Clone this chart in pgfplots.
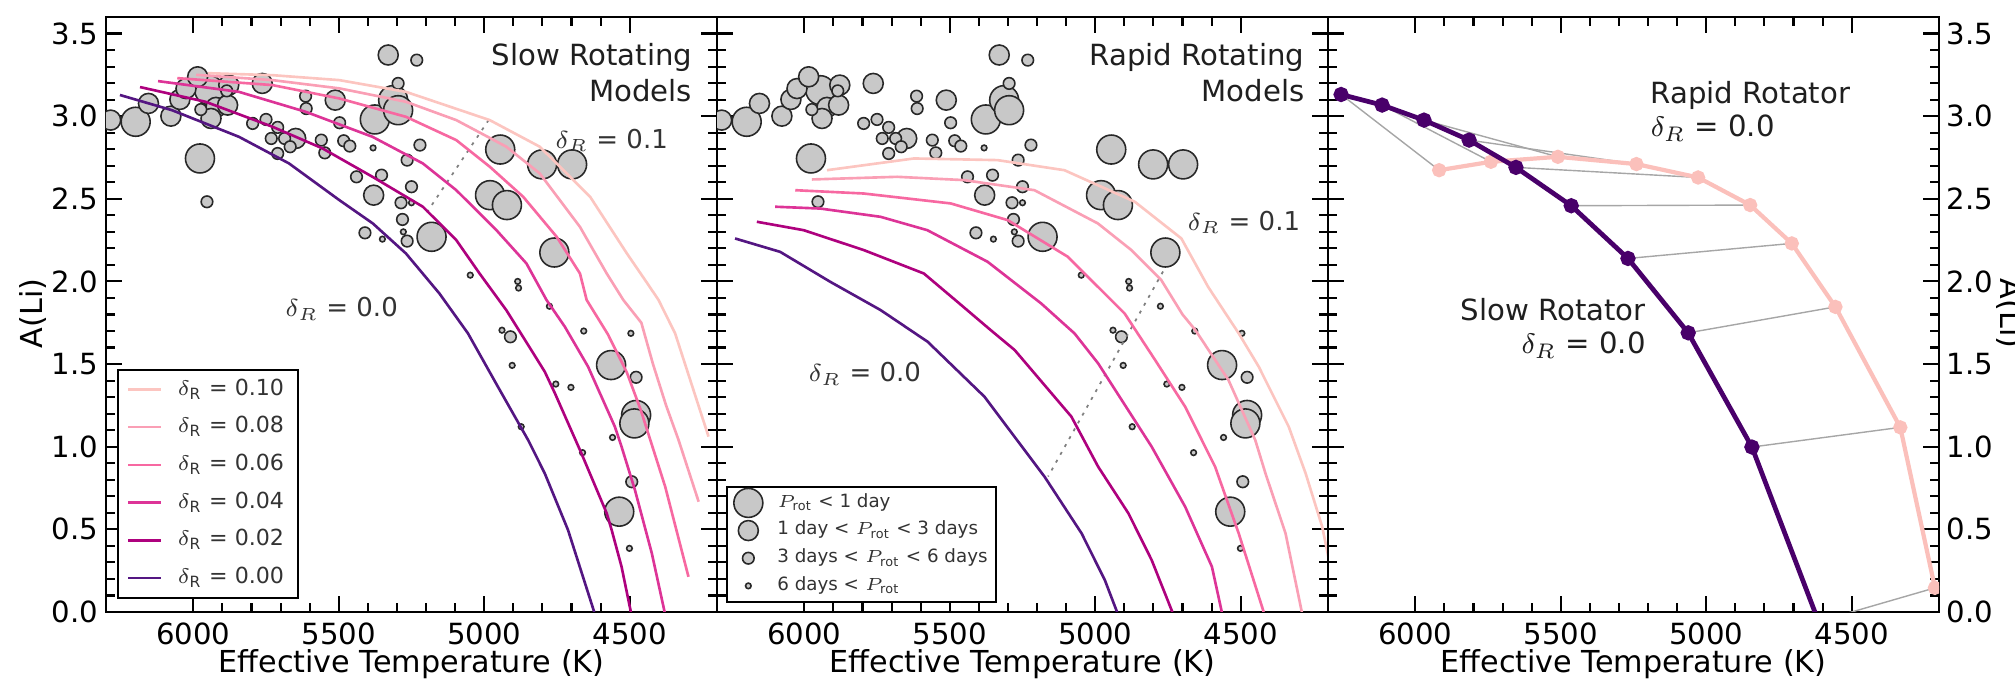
\documentclass[border=0pt]{standalone}
\usepackage{fontspec}
\setmainfont{DejaVu Sans}
\usepackage{pgfplots}
\pgfplotsset{compat=1.18}
\usepackage{pgfplotstable}

\definecolor{c10}{RGB}{252,197,192}
\definecolor{c08}{RGB}{250,159,181}
\definecolor{c06}{RGB}{247,104,161}
\definecolor{c04}{RGB}{221,52,151}
\definecolor{c02}{RGB}{174,1,126}
\definecolor{c00}{RGB}{84,22,130}
\definecolor{slowc}{RGB}{73,0,106}
\definecolor{rapidc}{RGB}{251,192,187}
\definecolor{ptfill}{RGB}{200,200,200}
\definecolor{ptedge}{RGB}{40,40,40}

% P_rot < 1 day
\pgfplotstableread{
T A
6198 2.966
5945 3.157
5376 2.980
5313 3.097
5296 3.036
5977 2.744
5181 2.270
4945 2.798
4801 2.708
4698 2.708
4980 2.522
4922 2.462
4759 2.175
4564 1.494
4478 1.192
4484 1.141
4536 0.607
}\ptsB
% 1 day < P_rot < 3 days
\pgfplotstableread{
T A
5330 3.370
6284 2.976
6154 3.077
6077 3.000
6046 3.101
6025 3.167
5985 3.238
5878 3.188
5922 3.053
5882 3.067
5939 2.986
5763 3.198
5512 3.097
5648 2.865
5380 2.522
}\ptsM
% 3 days < P_rot < 6 days
\pgfplotstableread{
T A
5232 3.339
5885 3.153
5974 3.040
5614 3.121
5612 3.046
5497 2.960
5296 3.198
5796 2.956
5750 2.980
5710 2.932
5732 2.865
5686 2.865
5667 2.815
5710 2.774
5560 2.855
5548 2.778
5483 2.851
5462 2.819
5221 2.825
5265 2.734
5439 2.633
5353 2.643
5250 2.573
5286 2.476
5281 2.375
5410 2.294
5265 2.244
5953 2.482
4910 1.665
4478 1.420
4493 0.788
}\ptsS
% 6 days < P_rot
\pgfplotstableread{
T A
5382 2.808
5250 2.476
5350 2.256
5278 2.300
5048 2.038
4885 2.000
4882 1.960
4776 1.850
4658 1.700
4939 1.705
4496 1.686
4904 1.492
4754 1.379
4702 1.359
4873 1.121
4559 1.056
4662 0.964
4501 0.385
}\ptsT

\tikzset{
  ann/.style={font=\fontsize{7.4}{9}\selectfont, text=black!80},
  ttl/.style={font=\fontsize{8.3}{10}\selectfont, text=black!88},
}
\pgfplotsset{
  chartbase/.style={
    scale only axis, width=61.1mm, height=59.5mm,
    xmin=4200, xmax=6300, ymin=0, ymax=3.6, x dir=reverse,
    xtick={4500,5000,5500,6000}, ytick={0,0.5,1,1.5,2,2.5,3,3.5},
    minor x tick num=4, minor y tick num=4,
    tick align=inside, major tick length=1.6mm, minor tick length=0.9mm,
    every tick/.style={black, line width=0.6pt},
    axis line style={line width=0.8pt},
    clip marker paths=true,
    /pgf/number format/assume math mode=true,
    tick label style={font=\fontsize{8.3}{10}\selectfont},
    xticklabel style={/pgf/number format/1000 sep={}, anchor=north, inner sep=0pt, yshift=-1mm},
    yticklabel style={/pgf/number format/fixed, /pgf/number format/fixed zerofill, /pgf/number format/precision=1, anchor=east, inner sep=0pt, xshift=-0.7mm},
    xlabel={Effective Temperature (K)},
    xlabel style={at={(axis description cs:0.5,0)}, anchor=base, yshift=-6.1mm, font=\fontsize{8.6}{10}\selectfont},
  },
  ptstyle/.style={only marks, mark=*, mark options={fill=ptfill, draw=ptedge, line width=0.45pt, solid}},
  mdl/.style={line width=0.75pt, no markers},
  markleg/.style={legend image code/.code={\pgfinterruptboundingbox\draw[##1, only marks] plot coordinates {(1.6mm,0mm)};\endpgfinterruptboundingbox\path[draw=none, fill=none] (0mm,-0.9mm) rectangle (3.2mm,0.9mm);}},
}

\begin{document}
\begin{tikzpicture}
%================ Panel 1 =================
\begin{axis}[chartbase, name=p1, at={(10.6mm,7.0mm)}, anchor=south west,
  legend image code/.code={\draw[#1] (0mm,0mm) -- (3.3mm,0mm);},
  legend style={at={(axis description cs:0.018,0.022)}, anchor=south west, draw=black, line width=0.6pt, fill=white,
    font=\fontsize{6.3}{7.5}\selectfont, text=black!80, inner xsep=0.9mm, inner ysep=0.4mm,
    row sep=0.6mm, column sep=1.0mm, nodes={inner sep=0.5mm}},
  legend cell align=left]
\addplot[ptstyle, mark size=1.45mm, forget plot] table {\ptsB};
\addplot[ptstyle, mark size=1.0mm, forget plot] table {\ptsM};
\addplot[ptstyle, mark size=0.58mm, forget plot] table {\ptsS};
\addplot[ptstyle, mark size=0.28mm, forget plot] table {\ptsT};
\addplot[gray, line width=0.5pt, dash pattern=on 0.3mm off 0.6mm, forget plot] coordinates {(4985,2.976) (5200,2.41)};
\addplot[mdl, c10] coordinates {(5950,3.26) (5728,3.248) (5498,3.218) (5269,3.147) (4981,2.976) (4809,2.815) (4636,2.512) (4510,2.17) (4440,1.99) (4401,1.888) (4344,1.686) (4229,1.061)};
\addlegendentry{\(\delta_{\mathrm{R}}\) = 0.10}
\addplot[mdl, c08] coordinates {(5990,3.25) (5728,3.218) (5498,3.168) (5269,3.087) (5096,2.976) (4924,2.815) (4809,2.653) (4671,2.33) (4579,2.048) (4522,1.888) (4460,1.75) (4420,1.5) (4375,1.25) (4332,1.04) (4263,0.667)};
\addlegendentry{\(\delta_{\mathrm{R}}\) = 0.08}
\addplot[mdl, c06] coordinates {(6055,3.23) (5728,3.188) (5498,3.107) (5269,2.996) (5096,2.855) (4981,2.694) (4866,2.512) (4751,2.27) (4671,2.048) (4648,1.888) (4575,1.68) (4510,1.45) (4462,1.222) (4378,0.758) (4298,0.213)};
\addlegendentry{\(\delta_{\mathrm{R}}\) = 0.06}
\addplot[mdl, c04] coordinates {(6121,3.212) (5843,3.147) (5613,3.026) (5384,2.875) (5211,2.714) (5096,2.552) (4958,2.31) (4855,2.109) (4786,1.888) (4723,1.726) (4643,1.484) (4551,1.121) (4528,1.0) (4482,0.738) (4424,0.355) (4380,0.0)};
\addlegendentry{\(\delta_{\mathrm{R}}\) = 0.04}
\addplot[mdl, c02] coordinates {(6183,3.176) (5958,3.087) (5728,2.936) (5556,2.805) (5384,2.633) (5211,2.452) (5096,2.25) (5016,2.048) (4924,1.826) (4838,1.584) (4792,1.454) (4757,1.323) (4666,0.96) (4579,0.597) (4562,0.496) (4528,0.274) (4496,0.0)};
\addlegendentry{\(\delta_{\mathrm{R}}\) = 0.02}
\addplot[mdl, c00] coordinates {(6252,3.128) (6073,3.036) (5843,2.875) (5671,2.714) (5498,2.492) (5383,2.351) (5269,2.169) (5154,1.927) (5056,1.686) (4953,1.363) (4849,1.04) (4792,0.839) (4712,0.496) (4622,0.0)};
\addlegendentry{\(\delta_{\mathrm{R}}\) = 0.00}
\node[ttl, anchor=base east, inner sep=0pt] at (axis cs:4283,3.309) {Slow Rotating};
\node[ttl, anchor=base east, inner sep=0pt] at (axis cs:4283,3.087) {Models};
\node[ann, anchor=base, inner sep=0pt] at (axis cs:4562,2.807) {\(\delta_R\) = 0.1};
\node[ann, anchor=base, inner sep=0pt] at (axis cs:5490,1.786) {\(\delta_R\) = 0.0};
\end{axis}
%================ Panel 2 =================
\begin{axis}[chartbase, name=p2, at={(71.7mm,7.0mm)}, anchor=south west, yticklabels={},
  legend style={at={(axis description cs:0.0152,0.0151)}, anchor=south west, draw=black, line width=0.6pt, fill=white,
    font=\fontsize{5.2}{6}\selectfont, text=black!80, inner xsep=0.5mm, inner ysep=0.35mm,
    row sep=0.25mm, column sep=1.0mm, nodes={inner sep=0.3mm}},
  legend cell align=left]
\addplot[ptstyle, mark size=1.45mm, markleg] table {\ptsB};
\addlegendentry{\(P_{\mathrm{rot}}\) < 1 day}
\addplot[ptstyle, mark size=1.0mm, markleg] table {\ptsM};
\addlegendentry{1 day < \(P_{\mathrm{rot}}\) < 3 days}
\addplot[ptstyle, mark size=0.58mm, markleg] table {\ptsS};
\addlegendentry{3 days < \(P_{\mathrm{rot}}\) < 6 days}
\addplot[ptstyle, mark size=0.28mm, markleg] table {\ptsT};
\addlegendentry{6 days < \(P_{\mathrm{rot}}\)}
\addplot[gray, line width=0.5pt, dash pattern=on 0.3mm off 0.6mm, forget plot] coordinates {(4767,2.06) (5162,0.82)};
\addplot[mdl, c10, forget plot] coordinates {(5922,2.673) (5623,2.744) (5336,2.734) (5106,2.673) (4864,2.482) (4704,2.26) (4612,1.967) (4507,1.686) (4438,1.484) (4335,1.121) (4277,0.839) (4220,0.516) (4160,0.0)};
\addplot[mdl, c08, forget plot] coordinates {(5974,2.617) (5681,2.633) (5451,2.613) (5209,2.552) (4991,2.351) (4876,2.19) (4773,2.008) (4700,1.80) (4656,1.706) (4542,1.403) (4450,1.04) (4415,0.839) (4346,0.476) (4290,0.0)};
\addplot[mdl, c06, forget plot] coordinates {(6031,2.552) (5796,2.532) (5497,2.472) (5301,2.371) (5094,2.149) (4899,1.806) (4794,1.524) (4691,1.242) (4588,0.879) (4507,0.476) (4421,0.0)};
\addplot[mdl, c04, forget plot] coordinates {(6100,2.452) (5945,2.441) (5738,2.391) (5577,2.31) (5370,2.119) (5186,1.867) (5071,1.685) (4990,1.504) (4806,1.0) (4691,0.637) (4599,0.274) (4565,0.0)};
\addplot[mdl, c02, forget plot] coordinates {(6163,2.361) (6002,2.31) (5796,2.19) (5589,2.048) (5474,1.877) (5359,1.705) (5277,1.585) (5082,1.182) (4990,0.879) (4886,0.597) (4806,0.314) (4735,0.0)};
\addplot[mdl, c00, forget plot] coordinates {(6238,2.26) (6083,2.179) (5911,1.998) (5738,1.827) (5576,1.635) (5381,1.303) (5174,0.818) (5047,0.476) (4967,0.193) (4925,0.0)};
\node[ttl, anchor=base east, inner sep=0pt] at (axis cs:4279,3.309) {Rapid Rotating};
\node[ttl, anchor=base east, inner sep=0pt] at (axis cs:4279,3.087) {Models};
\node[ann, anchor=base, inner sep=0pt] at (axis cs:4489,2.311) {\(\delta_R\) = 0.1};
\node[ann, anchor=base, inner sep=0pt] at (axis cs:5792,1.393) {\(\delta_R\) = 0.0};
\end{axis}
%================ Panel 3 =================
\begin{axis}[chartbase, name=p3, at={(132.8mm,7.0mm)}, anchor=south west,
  yticklabel pos=right, ytick pos=both,
  yticklabel style={anchor=west, xshift=1.4mm}]
\addplot[black!35, line width=0.4pt] coordinates {(6255,3.131) (5918,2.673)};
\addplot[black!35, line width=0.4pt] coordinates {(6114,3.067) (5740,2.724)};
\addplot[black!35, line width=0.4pt] coordinates {(5970,2.976) (5510,2.754)};
\addplot[black!35, line width=0.4pt] coordinates {(5815,2.855) (5240,2.710)};
\addplot[black!35, line width=0.4pt] coordinates {(5654,2.690) (5028,2.629)};
\addplot[black!35, line width=0.4pt] coordinates {(5464,2.458) (4849,2.462)};
\addplot[black!35, line width=0.4pt] coordinates {(5269,2.139) (4706,2.230)};
\addplot[black!35, line width=0.4pt] coordinates {(5062,1.689) (4556,1.846)};
\addplot[black!35, line width=0.4pt] coordinates {(4843,0.998) (4333,1.117)};
\addplot[black!35, line width=0.4pt] coordinates {(4614,-0.058) (4214,0.146)};
\addplot[rapidc, line width=1.2pt, mark=*, mark size=0.5mm, mark options={fill=rapidc, draw=rapidc, solid}] coordinates {(5918,2.673) (5740,2.724) (5510,2.754) (5240,2.710) (5028,2.629) (4849,2.462) (4706,2.230) (4556,1.846) (4333,1.117) (4214,0.146)};
\addplot[slowc, line width=1.35pt, mark=*, mark size=0.52mm, mark options={fill=slowc, draw=slowc, solid}] coordinates {(6255,3.131) (6114,3.067) (5970,2.976) (5815,2.855) (5654,2.690) (5464,2.458) (5269,2.139) (5062,1.689) (4843,0.998) (4614,-0.058)};
\node[ttl, anchor=base west, inner sep=0pt] at (axis cs:5193,3.079) {Rapid Rotator};
\node[ttl, anchor=base west, inner sep=0pt] at (axis cs:5193,2.876) {\(\delta_R\) = 0.0};
\node[ttl, anchor=base east, inner sep=0pt] at (axis cs:5206,1.766) {Slow Rotator};
\node[ttl, anchor=base east, inner sep=0pt] at (axis cs:5206,1.565) {\(\delta_R\) = 0.0};
\end{axis}
\node[rotate=90, anchor=center, inner sep=0pt, font=\fontsize{8.6}{10}\selectfont] at (3.35mm,36.85mm) {A(Li)};
\node[rotate=-90, anchor=south, inner sep=0pt, font=\fontsize{8.6}{10}\selectfont] at (199.6mm,36.85mm) {A(Li)};
\pgfresetboundingbox
\useasboundingbox (0,0) rectangle (201.5mm,68.2mm);
\end{tikzpicture}
\end{document}
